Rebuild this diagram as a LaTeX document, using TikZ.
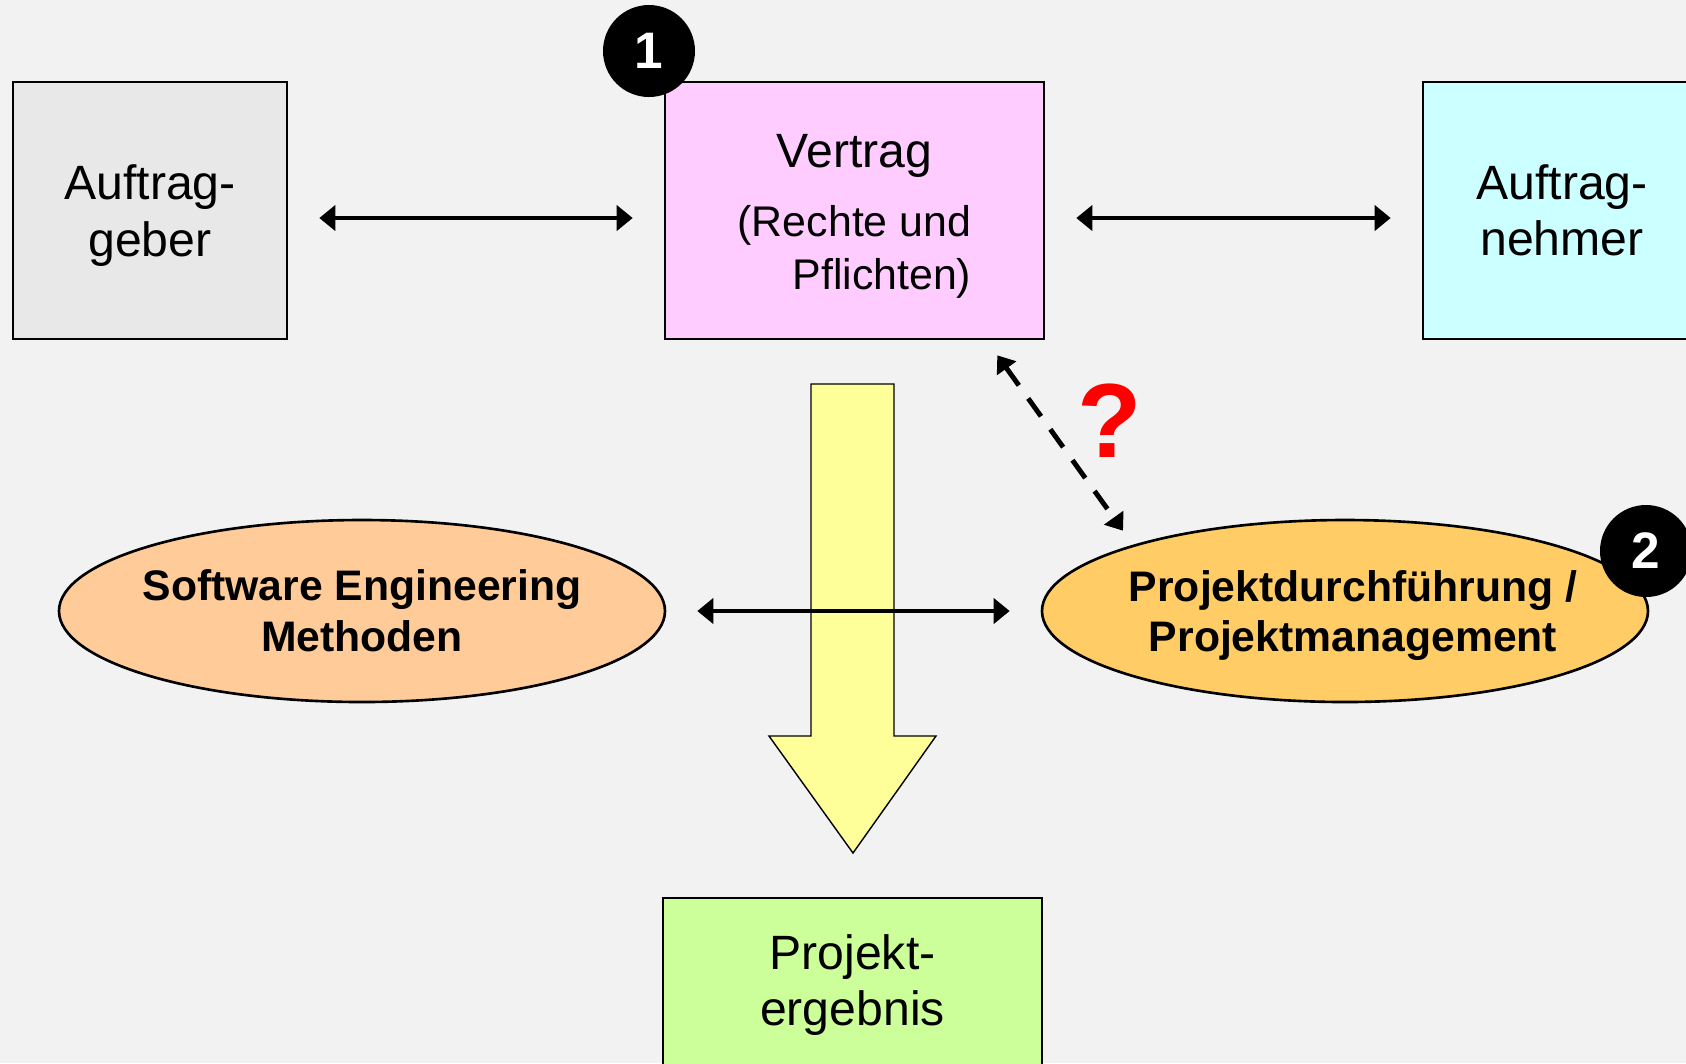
\documentclass[tikz,border=0pt]{standalone}
\usepackage{fontspec}
\setmainfont{Liberation Sans}
\usetikzlibrary{arrows.meta, shapes.geometric}
\definecolor{bggray}{HTML}{F2F2F2}
\definecolor{clientgray}{HTML}{E8E8E8}
\definecolor{contractpink}{HTML}{FFCCFF}
\definecolor{vendorcyan}{HTML}{CCFFFF}
\definecolor{methodorange}{HTML}{FFCC99}
\definecolor{mgmtorange}{HTML}{FFCC66}
\definecolor{flowyellow}{HTML}{FFFF99}
\definecolor{resultgreen}{HTML}{CCFF99}
\newcommand{\nodepth}[1]{\raisebox{0pt}[\height][0pt]{#1}}

\begin{document}
\begin{tikzpicture}[x=0.1mm,y=-0.1mm,
  box/.style={draw, line width=0.75pt, minimum height=25.7mm, inner sep=0pt,
    align=center, font=\fontsize{13.7}{16}\selectfont},
  oval/.style={ellipse, draw, line width=0.75pt, minimum width=60.6mm,
    minimum height=18.2mm, inner xsep=-3mm, inner ysep=0pt, align=center,
    font=\fontsize{12.15}{14.5}\selectfont\bfseries},
  badge/.style={circle, fill=black, minimum size=9.2mm, inner sep=0pt,
    text=white, font=\fontsize{14.6}{16}\selectfont\bfseries},
  link/.style={line width=1.4pt,
    {Triangle[length=1.6mm,width=2.5mm]}-{Triangle[length=1.6mm,width=2.5mm]},
    shorten <=3.1mm, shorten >=3.1mm},
  dlink/.style={line width=1.4pt, dash pattern=on 2.2mm off 1.6mm,
    {Triangle[length=1.6mm,width=2.3mm]}-{Triangle[length=1.6mm,width=2.3mm]}}]
\useasboundingbox (0,0) rectangle (1686,1063);
\fill[bggray] (0,0) rectangle (1686,1063);

% parties and contract
\node[box, fill=clientgray, minimum width=27.4mm] (geber) at (150,210.5) {Auftrag-\\\nodepth{geber}};
\node[box, fill=contractpink, minimum width=37.9mm] (vertrag) at (854.5,210.5)
  {\rule{0pt}{5.2mm}Vertrag\\[3.6pt]\fontsize{12.2}{15}\selectfont
   \begin{tabular}[t]{@{}r@{}}(Rechte und\\Pflichten)\end{tabular}};
\node[box, fill=vendorcyan, minimum width=27.8mm] (nehmer) at (1562,210.5) {Auftrag-\\nehmer};

% big flow arrow
\draw[fill=flowyellow, line width=0.4pt] (811,384) -- (894,384) -- (894,736) -- (936,736)
  -- (853,853) -- (769,736) -- (811,736) -- cycle;

\node[oval, fill=methodorange] (methoden) at (362,611) {Software Engineering\\Methoden};
\node[oval, fill=mgmtorange] (durchf) at (1345,611)
  {\hspace*{1.6mm}Projektdurchführung /\\\hspace*{1.6mm}\nodepth{Projektmanagement}};
\node[box, fill=resultgreen, minimum width=37.9mm, minimum height=17.4mm] (ergebnis)
  at (852.5,985) {Projekt-\\ergebnis};

\draw[link] ([yshift=-0.75mm]geber.east) -- ([yshift=-0.75mm]vertrag.west);
\draw[link] ([yshift=-0.75mm]vertrag.east) -- ([yshift=-0.75mm]nehmer.west);
\draw[link] (methoden) -- (durchf);
\draw[dlink] ([xshift=-4.8mm,yshift=-1.5mm]vertrag.south east)
  -- ([xshift=-22.2mm,yshift=-1.2mm]durchf.north);
\node[text=red, font=\fontsize{30}{30}\selectfont\bfseries] (frage) at (1110,421) {?};

\node[badge] (eins) at (649,51) {1};
\node[badge] (zwei) at (1646,551) {2};
\end{tikzpicture}
\end{document}
